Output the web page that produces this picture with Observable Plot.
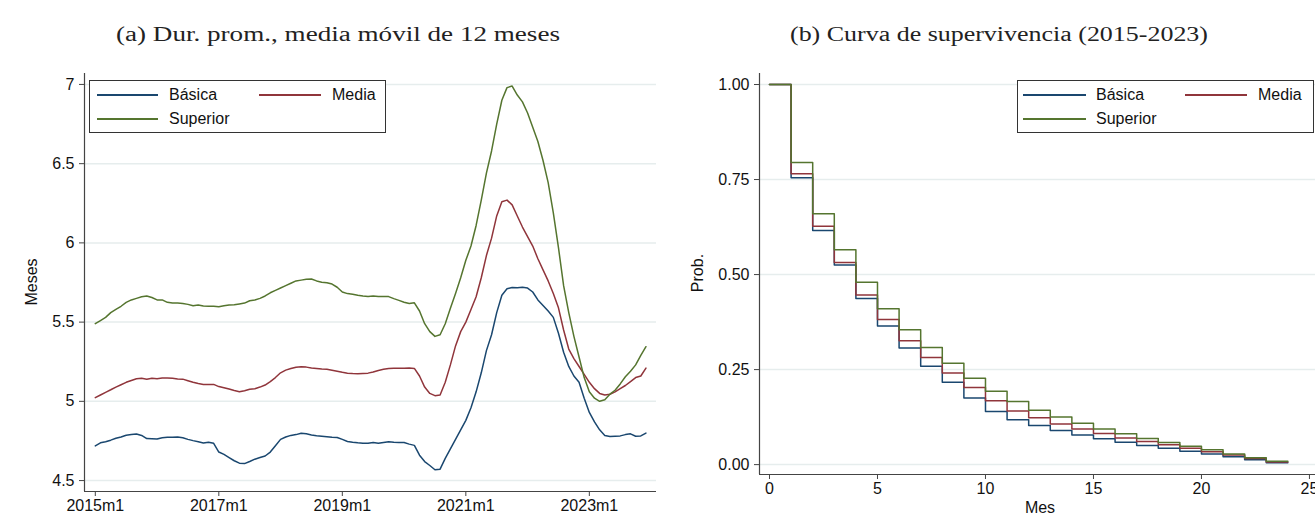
<!DOCTYPE html>
<html><head><meta charset="utf-8">
<script src="https://cdn.jsdelivr.net/npm/d3@7"></script>
<script src="https://cdn.jsdelivr.net/npm/@observablehq/plot@0.6"></script>
<style>
html,body{margin:0;padding:0;background:#fff;overflow:hidden;}
#root{position:relative;width:1315px;height:516px;font-family:"Liberation Sans",Arial,sans-serif;color:#111;}
.chart{position:absolute;top:60px;}
.legend{position:absolute;border:1px solid #333;background:#fff;box-sizing:border-box;}
.sw{position:absolute;height:0;border-top:2px solid;}
.lt{position:absolute;font-size:16px;line-height:18px;transform:translateY(-50%);white-space:nowrap;}
.ytitle{position:absolute;font-size:16px;white-space:nowrap;transform:translate(-50%,-50%) rotate(-90deg);}
.xtitle{position:absolute;font-size:16px;white-space:nowrap;transform:translate(-50%,-50%);}
</style></head><body><div id="root"></div>
<script>
// ---------- Data ----------
const seriesNames = ["Básica", "Media", "Superior"];
const seriesColors = ["#1a476f", "#90353b", "#55752f"];

// Panel (a): 12-month moving average of duration (months), 2015m1 .. 2023m12
const basica = [
4.719,4.738,4.745,4.755,4.767,4.775,4.786,4.790,4.794,4.785,4.765,4.764,
4.763,4.770,4.773,4.774,4.775,4.770,4.760,4.752,4.745,4.737,4.742,4.735,
4.680,4.665,4.645,4.625,4.610,4.607,4.620,4.635,4.645,4.655,4.680,4.720,
4.760,4.775,4.785,4.790,4.798,4.795,4.788,4.783,4.780,4.777,4.774,4.772,
4.760,4.747,4.742,4.738,4.735,4.735,4.740,4.735,4.740,4.745,4.742,4.740,
4.740,4.730,4.722,4.660,4.620,4.595,4.568,4.572,4.640,4.700,4.760,4.820,
4.880,4.960,5.060,5.180,5.320,5.420,5.560,5.670,5.710,5.719,5.717,5.720,
5.715,5.690,5.640,5.605,5.570,5.530,5.430,5.310,5.220,5.160,5.120,5.020,
4.930,4.870,4.820,4.785,4.778,4.780,4.782,4.790,4.795,4.780,4.782,4.800];
const media = [
5.023,5.040,5.057,5.073,5.090,5.105,5.120,5.132,5.143,5.145,5.140,5.145,
5.143,5.147,5.148,5.145,5.141,5.140,5.130,5.120,5.112,5.107,5.107,5.107,
5.093,5.086,5.078,5.068,5.060,5.067,5.076,5.080,5.090,5.103,5.125,5.150,
5.180,5.197,5.207,5.215,5.218,5.216,5.210,5.208,5.204,5.202,5.196,5.190,
5.183,5.178,5.175,5.174,5.176,5.178,5.185,5.195,5.202,5.207,5.209,5.209,
5.209,5.210,5.208,5.160,5.090,5.050,5.036,5.040,5.120,5.230,5.350,5.440,
5.500,5.580,5.660,5.780,5.920,6.030,6.170,6.260,6.270,6.240,6.170,6.100,
6.040,5.980,5.900,5.830,5.760,5.680,5.590,5.450,5.330,5.270,5.220,5.170,
5.120,5.080,5.050,5.040,5.045,5.060,5.080,5.100,5.125,5.150,5.160,5.210];
const superior = [
5.490,5.510,5.530,5.560,5.580,5.600,5.625,5.640,5.650,5.660,5.665,5.655,
5.640,5.640,5.625,5.620,5.620,5.618,5.612,5.603,5.608,5.602,5.600,5.600,
5.597,5.603,5.608,5.610,5.615,5.620,5.635,5.640,5.650,5.665,5.685,5.700,
5.715,5.730,5.745,5.760,5.765,5.770,5.772,5.760,5.752,5.748,5.740,5.720,
5.690,5.680,5.676,5.670,5.665,5.662,5.665,5.661,5.662,5.661,5.648,5.637,
5.625,5.617,5.622,5.570,5.490,5.440,5.410,5.420,5.490,5.587,5.680,5.780,
5.890,5.980,6.110,6.270,6.440,6.580,6.750,6.900,6.980,6.990,6.933,6.890,
6.820,6.730,6.640,6.520,6.380,6.190,5.970,5.730,5.560,5.410,5.280,5.150,
5.060,5.020,5.000,5.010,5.045,5.070,5.110,5.155,5.190,5.230,5.290,5.345];
const xTicksA = [0, 24, 48, 72, 96];
const xLabelsA = ["2015m1", "2017m1", "2019m1", "2021m1", "2023m1"];
const yTicksA = [4.5, 5, 5.5, 6, 6.5, 7];
const yLabelsA = ["4.5", "5", "5.5", "6", "6.5", "7"];

// Panel (b): Kaplan-Meier survival by month 0..23 (step ends at month 24)
const survBasica = [1.000,0.755,0.616,0.525,0.437,0.365,0.307,0.259,0.217,0.175,0.140,0.118,
  0.103,0.090,0.078,0.068,0.059,0.050,0.043,0.035,0.028,0.021,0.013,0.005];
const survMedia = [1.000,0.765,0.627,0.532,0.446,0.382,0.326,0.282,0.241,0.203,0.168,0.141,
  0.123,0.107,0.094,0.082,0.070,0.061,0.052,0.043,0.034,0.025,0.016,0.007];
const survSuperior = [1.000,0.795,0.660,0.565,0.480,0.410,0.355,0.308,0.267,0.227,0.193,0.166,
  0.143,0.125,0.109,0.094,0.081,0.069,0.058,0.048,0.039,0.028,0.018,0.009];
const xTicksB = [0, 5, 10, 15, 20, 25];
const yTicksB = [0, 0.25, 0.5, 0.75, 1];
const yLabelsB = ["0.00", "0.25", "0.50", "0.75", "1.00"];

const titleA = "(a) Dur. prom., media móvil de 12 meses";
const titleB = "(b) Curva de supervivencia (2015-2023)";

// ---------- Build ----------
const root = document.getElementById("root");
const axisColor = "#444";
const gridColor = "#e6eded";
const baseStyle = {fontFamily: "Liberation Sans, Arial, sans-serif", fontSize: "16px", color: "#111", background: "transparent", overflow: "visible"};

const rowsA = [];
[basica, media, superior].forEach((arr, i) => arr.forEach((v, m) => rowsA.push({m, v, s: seriesNames[i]})));
const labA = new Map(xTicksA.map((t, i) => [t, xLabelsA[i]]));
const labYA = new Map(yTicksA.map((t, i) => [t, yLabelsA[i]]));
const xDomA = [-2.1, 109.05], yDomA = [4.431, 7.069];

const chartA = Plot.plot({
  width: 660, height: 456, marginLeft: 84, marginRight: 4, marginTop: 13, marginBottom: 25,
  style: baseStyle,
  x: {domain: xDomA, axis: null, label: null},
  y: {domain: yDomA, axis: null, label: null},
  color: {domain: seriesNames, range: seriesColors},
  marks: [
    Plot.gridY(yTicksA, {stroke: gridColor, strokeOpacity: 1, strokeWidth: 1.5}),
    Plot.ruleX([xDomA[0]], {stroke: axisColor, strokeWidth: 1.2}),
    Plot.ruleY([yDomA[0]], {stroke: axisColor, strokeWidth: 1.2}),
    Plot.axisY(yTicksA, {tickSize: 5, tickPadding: 5, stroke: axisColor, fill: "#111", label: null, fontSize: 16, tickFormat: d => labYA.get(d)}),
    Plot.axisX(xTicksA, {tickSize: 5, tickPadding: 3, stroke: axisColor, fill: "#111", label: null, fontSize: 16, tickFormat: d => labA.get(d)}),
    Plot.line(rowsA, {x: "m", y: "v", stroke: "s", z: "s", strokeWidth: 1.5})
  ]
});
chartA.classList.add("chart");
chartA.style.left = "0px";
root.appendChild(chartA);

const rowsB = [];
[survBasica, survMedia, survSuperior].forEach((arr, i) => {
  arr.forEach((p, t) => rowsB.push({t, p, s: seriesNames[i]}));
  rowsB.push({t: arr.length, p: arr[arr.length - 1], s: seriesNames[i]});
});
const labB = new Map(yTicksB.map((t, i) => [t, yLabelsB[i]]));
const xDomB = [-0.463, 25.28], yDomB = [-0.026, 1.029];

const chartB = Plot.plot({
  width: 655, height: 456, marginLeft: 99, marginRight: 0, marginTop: 13, marginBottom: 42,
  style: baseStyle,
  x: {domain: xDomB, axis: null, label: null},
  y: {domain: yDomB, axis: null, label: null},
  color: {domain: seriesNames, range: seriesColors},
  marks: [
    Plot.gridY(yTicksB, {stroke: gridColor, strokeOpacity: 1, strokeWidth: 1.5}),
    Plot.ruleX([xDomB[0]], {stroke: axisColor, strokeWidth: 1.2}),
    Plot.ruleY([yDomB[0]], {stroke: axisColor, strokeWidth: 1.2}),
    Plot.axisY(yTicksB, {tickSize: 5, tickPadding: 5, stroke: axisColor, fill: "#111", label: null, fontSize: 16, tickFormat: d => labB.get(d)}),
    Plot.axisX(xTicksB, {tickSize: 5, tickPadding: 3, stroke: axisColor, fill: "#111", label: null, fontSize: 16}),
    Plot.line(rowsB, {x: "t", y: "p", stroke: "s", z: "s", curve: "step-after", strokeWidth: 1.5})
  ]
});
chartB.classList.add("chart");
chartB.style.left = "660px";
root.appendChild(chartB);

// Titles (serif)
const NS = "http://www.w3.org/2000/svg";
const tsvg = document.createElementNS(NS, "svg");
tsvg.setAttribute("width", 1315); tsvg.setAttribute("height", 60);
tsvg.style.position = "absolute"; tsvg.style.left = "0px"; tsvg.style.top = "0px";
[[titleA, 338, 444], [titleB, 999, 418]].forEach(([txt, cx, len]) => {
  const t = document.createElementNS(NS, "text");
  t.textContent = txt;
  t.setAttribute("x", cx - len / 2); t.setAttribute("y", 41);
  t.setAttribute("textLength", len); t.setAttribute("lengthAdjust", "spacingAndGlyphs");
  t.setAttribute("font-family", "Liberation Serif, serif"); t.setAttribute("font-size", 20);
  t.setAttribute("fill", "#222");
  tsvg.appendChild(t);
});
root.appendChild(tsvg);

// Axis titles
function addDiv(cls, txt, x, y) {
  const d = document.createElement("div"); d.className = cls; d.textContent = txt;
  d.style.left = x + "px"; d.style.top = y + "px"; root.appendChild(d); return d;
}
addDiv("ytitle", "Meses", 32, 282);
addDiv("ytitle", "Prob.", 698, 273);
addDiv("xtitle", "Mes", 1040, 508);

// Legends
function legend(left, top, width, height, items) {
  const box = document.createElement("div"); box.className = "legend";
  Object.assign(box.style, {left: left + "px", top: top + "px", width: width + "px", height: height + "px"});
  items.forEach(it => {
    const sw = document.createElement("div"); sw.className = "sw";
    Object.assign(sw.style, {left: (it.x1 - left - 1) + "px", top: (it.y - top - 2) + "px", width: (it.x2 - it.x1) + "px", borderTopColor: it.color});
    box.appendChild(sw);
    const lt = document.createElement("div"); lt.className = "lt"; lt.textContent = it.name;
    Object.assign(lt.style, {left: (it.tx - left - 1) + "px", top: (it.y - top - 1) + "px"});
    box.appendChild(lt);
  });
  root.appendChild(box);
}
legend(89, 80, 297, 53, [
  {name: seriesNames[0], color: seriesColors[0], x1: 97, x2: 158, tx: 169, y: 95},
  {name: seriesNames[1], color: seriesColors[1], x1: 259, x2: 321, tx: 332, y: 95},
  {name: seriesNames[2], color: seriesColors[2], x1: 97, x2: 158, tx: 169, y: 119}
]);
legend(1017, 80, 297, 53, [
  {name: seriesNames[0], color: seriesColors[0], x1: 1023, x2: 1086, tx: 1096, y: 95},
  {name: seriesNames[1], color: seriesColors[1], x1: 1185, x2: 1247, tx: 1258, y: 95},
  {name: seriesNames[2], color: seriesColors[2], x1: 1023, x2: 1086, tx: 1096, y: 119}
]);
</script></body></html>
